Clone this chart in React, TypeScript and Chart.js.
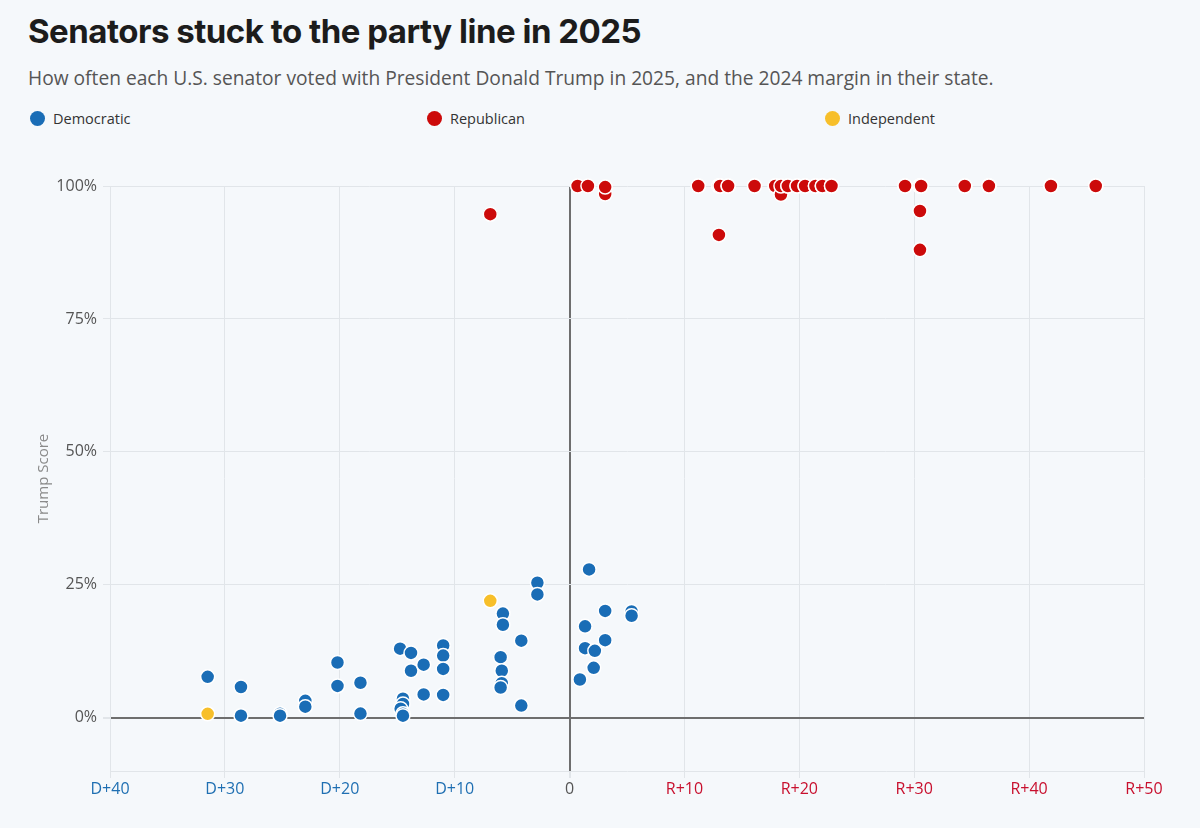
import React, { useEffect, useRef } from "react";
import { Chart, registerables } from "chart.js";

Chart.register(...registerables);

// 2024 presidential margin in the state (negative = D, positive = R) and Trump score (%)
const demMargin = [
  -31.5, -28.6, -28.6, -25.2, -25.2, -23.0, -23.0, -20.2, -20.2, -18.2, -18.2,
  -14.75, -13.8, -13.8, -12.7, -12.7, -11.0, -11.0, -11.0, -11.0,
  -14.5, -14.5, -14.7, -14.5, -14.5,
  -2.8, -2.8, -5.8, -5.8, -4.2, -6.0, -5.9, -5.9, -6.0, -4.2,
  1.7, 3.1, 5.4, 5.4, 1.35, 3.1, 1.35, 2.2, 2.1, 0.9,
];
const demScore = [
  7.7, 5.8, 0.4, 0.75, 0.4, 3.2, 2.1, 10.4, 6.0, 6.6, 0.8,
  13.0, 12.2, 8.85, 10.0, 4.4, 13.6, 11.7, 9.2, 4.3,
  3.6, 2.6, 1.7, 0.75, 0.4,
  25.4, 23.2, 19.6, 17.5, 14.5, 11.4, 8.85, 6.5, 5.7, 2.3,
  27.9, 20.1, 20.0, 19.2, 17.2, 14.6, 13.1, 12.6, 9.4, 7.2,
];

const repMargin = [
  -6.9, 0.7, 1.6, 3.1, 3.1, 11.2, 11.2, 13.0, 13.0, 13.0, 13.0, 13.1, 13.1,
  13.8, 13.8, 16.1, 16.1, 17.9, 17.9, 18.4, 18.4, 19.0, 19.0, 19.8, 19.8,
  20.5, 20.5, 21.4, 21.4, 22.0, 22.0, 22.8, 22.8, 29.2, 29.2, 30.5, 30.5,
  30.5, 30.5, 30.5, 30.5, 30.6, 30.6, 34.4, 34.4, 36.5, 36.5, 36.5, 36.5,
  41.9, 41.9, 45.8, 45.8,
];
const repScore = [
  94.7, 100, 100, 98.5, 99.8, 100, 100, 100, 100, 100, 90.8, 100, 100,
  100, 100, 100, 100, 100, 100, 98.4, 100, 100, 100, 100, 100,
  100, 100, 100, 100, 100, 100, 100, 100, 100, 100, 100, 100,
  100, 100, 95.3, 88.0, 100, 100, 100, 100, 100, 100, 100, 100,
  100, 100, 100, 100,
];

const indMargin = [-31.5, -6.9];
const indScore = [0.75, 22.0];

const xTickValues = [-40, -30, -20, -10, 0, 10, 20, 30, 40, 50];
const xTickLabels = ["D+40", "D+30", "D+20", "D+10", "0", "R+10", "R+20", "R+30", "R+40", "R+50"];
const yTickValues = [0, 25, 50, 75, 100];
const yTickLabels = ["0%", "25%", "50%", "75%", "100%"];

const seriesNames = ["Democratic", "Republican", "Independent"];

const BLUE = "#1a6db6";
const RED = "#cc0a0a";
const YELLOW = "#f7bf2a";
const BG = "#f5f8fb";
const GRID = "#e1e5e9";
const ZERO = "#6e6e6e";

const FONT = "'Open Sans', 'Noto Sans', sans-serif";

function pts(xs: number[], ys: number[]) {
  return xs.map((x, i) => ({ x, y: ys[i] }));
}

export default function App() {
  const ref = useRef<HTMLCanvasElement | null>(null);

  useEffect(() => {
    document.body.style.margin = "0";
    document.body.style.background = BG;
    if (!ref.current) return;
    const pointStyle = {
      pointRadius: 7,
      pointHoverRadius: 7,
      pointBorderWidth: 1.5,
      pointBorderColor: "#ffffff",
      showLine: false,
      clip: false as any,
    };
    const chart = new Chart(ref.current, {
      type: "scatter",
      data: {
        datasets: [
          { label: seriesNames[0], data: pts(demMargin, demScore), backgroundColor: BLUE, pointBackgroundColor: BLUE, ...pointStyle },
          { label: seriesNames[1], data: pts(repMargin, repScore), backgroundColor: RED, pointBackgroundColor: RED, ...pointStyle },
          { label: seriesNames[2], data: pts(indMargin, indScore), backgroundColor: YELLOW, pointBackgroundColor: YELLOW, ...pointStyle },
        ],
      },
      options: {
        animation: false,
        responsive: false,
        maintainAspectRatio: false,
        layout: { padding: { top: 46, right: 56, bottom: 27, left: 0 } },
        plugins: { legend: { display: false }, tooltip: { enabled: false } },
        scales: {
          x: {
            type: "linear",
            min: -40,
            max: 50,
            afterBuildTicks: (s: any) => {
              s.ticks = xTickValues.map((v) => ({ value: v }));
            },
            afterFit: (s: any) => {
              s.height = 30;
            },
            border: { display: true, color: GRID, width: 1 },
            grid: {
              color: (c: any) => (c.tick && c.tick.value === 0 ? ZERO : GRID),
              lineWidth: (c: any) => (c.tick && c.tick.value === 0 ? 2 : 1),
              tickColor: GRID,
              tickLength: 7,
              drawTicks: true,
            },
            ticks: {
              padding: 2,
              maxRotation: 0,
              autoSkip: false,
              font: { family: FONT, size: 16 },
              color: (c: any) => {
                const v = c.tick ? c.tick.value : 0;
                return v < 0 ? "#1f6fb2" : v > 0 ? "#c8102e" : "#555555";
              },
              callback: (v: any) => {
                const i = xTickValues.indexOf(Number(v));
                return i >= 0 ? xTickLabels[i] : "";
              },
            },
          },
          y: {
            type: "linear",
            min: -10,
            max: 100,
            afterBuildTicks: (s: any) => {
              s.ticks = yTickValues.map((v) => ({ value: v }));
            },
            afterFit: (s: any) => {
              s.width = 110;
            },
            border: { display: true, color: GRID, width: 1 },
            grid: {
              color: (c: any) => (c.tick && c.tick.value === 0 ? ZERO : GRID),
              lineWidth: (c: any) => (c.tick && c.tick.value === 0 ? 2 : 1),
              tickColor: GRID,
              tickLength: 7,
              drawTicks: true,
            },
            ticks: {
              padding: 6,
              autoSkip: false,
              font: { family: FONT, size: 16 },
              color: "#555555",
              callback: (v: any) => {
                const i = yTickValues.indexOf(Number(v));
                return i >= 0 ? yTickLabels[i] : "";
              },
            },
            title: {
              display: true,
              text: "Trump Score",
              color: "#8a8a8a",
              font: { family: FONT, size: 15 },
              padding: { top: 35, bottom: 0 },
            },
          },
        },
      },
    });
    return () => chart.destroy();
  }, []);

  const legendColors = [BLUE, RED, YELLOW];
  const legendLeft = [30, 427, 825];

  return (
    <div style={{ position: "relative", width: 1200, height: 828, background: BG, overflow: "hidden", fontFamily: FONT }}>
      <div
        style={{
          position: "absolute",
          left: 28,
          top: 11,
          fontFamily: "Inter, 'Open Sans', sans-serif",
          fontWeight: 700,
          fontSize: 33,
          letterSpacing: -0.5,
          color: "#1c1c1c",
          whiteSpace: "nowrap",
          lineHeight: "40px",
        }}
      >
        Senators stuck to the party line in 2025
      </div>
      <div
        style={{
          position: "absolute",
          left: 28,
          top: 64,
          fontSize: 19.2,
          color: "#555555",
          whiteSpace: "nowrap",
          lineHeight: "28px",
        }}
      >
        How often each U.S. senator voted with President Donald Trump in 2025, and the 2024 margin in their state.
      </div>
      {seriesNames.map((n, i) => (
        <div
          key={n}
          style={{
            position: "absolute",
            left: legendLeft[i],
            top: 108,
            display: "flex",
            alignItems: "center",
            height: 20,
            fontSize: 14.5,
            color: "#333333",
            whiteSpace: "nowrap",
          }}
        >
          <span
            style={{
              display: "inline-block",
              width: 15,
              height: 15,
              borderRadius: "50%",
              background: legendColors[i],
              marginRight: 8,
            }}
          />
          {n}
        </div>
      ))}
      <canvas ref={ref} width={1200} height={688} style={{ position: "absolute", left: 0, top: 140, width: 1200, height: 688 }} />
    </div>
  );
}
